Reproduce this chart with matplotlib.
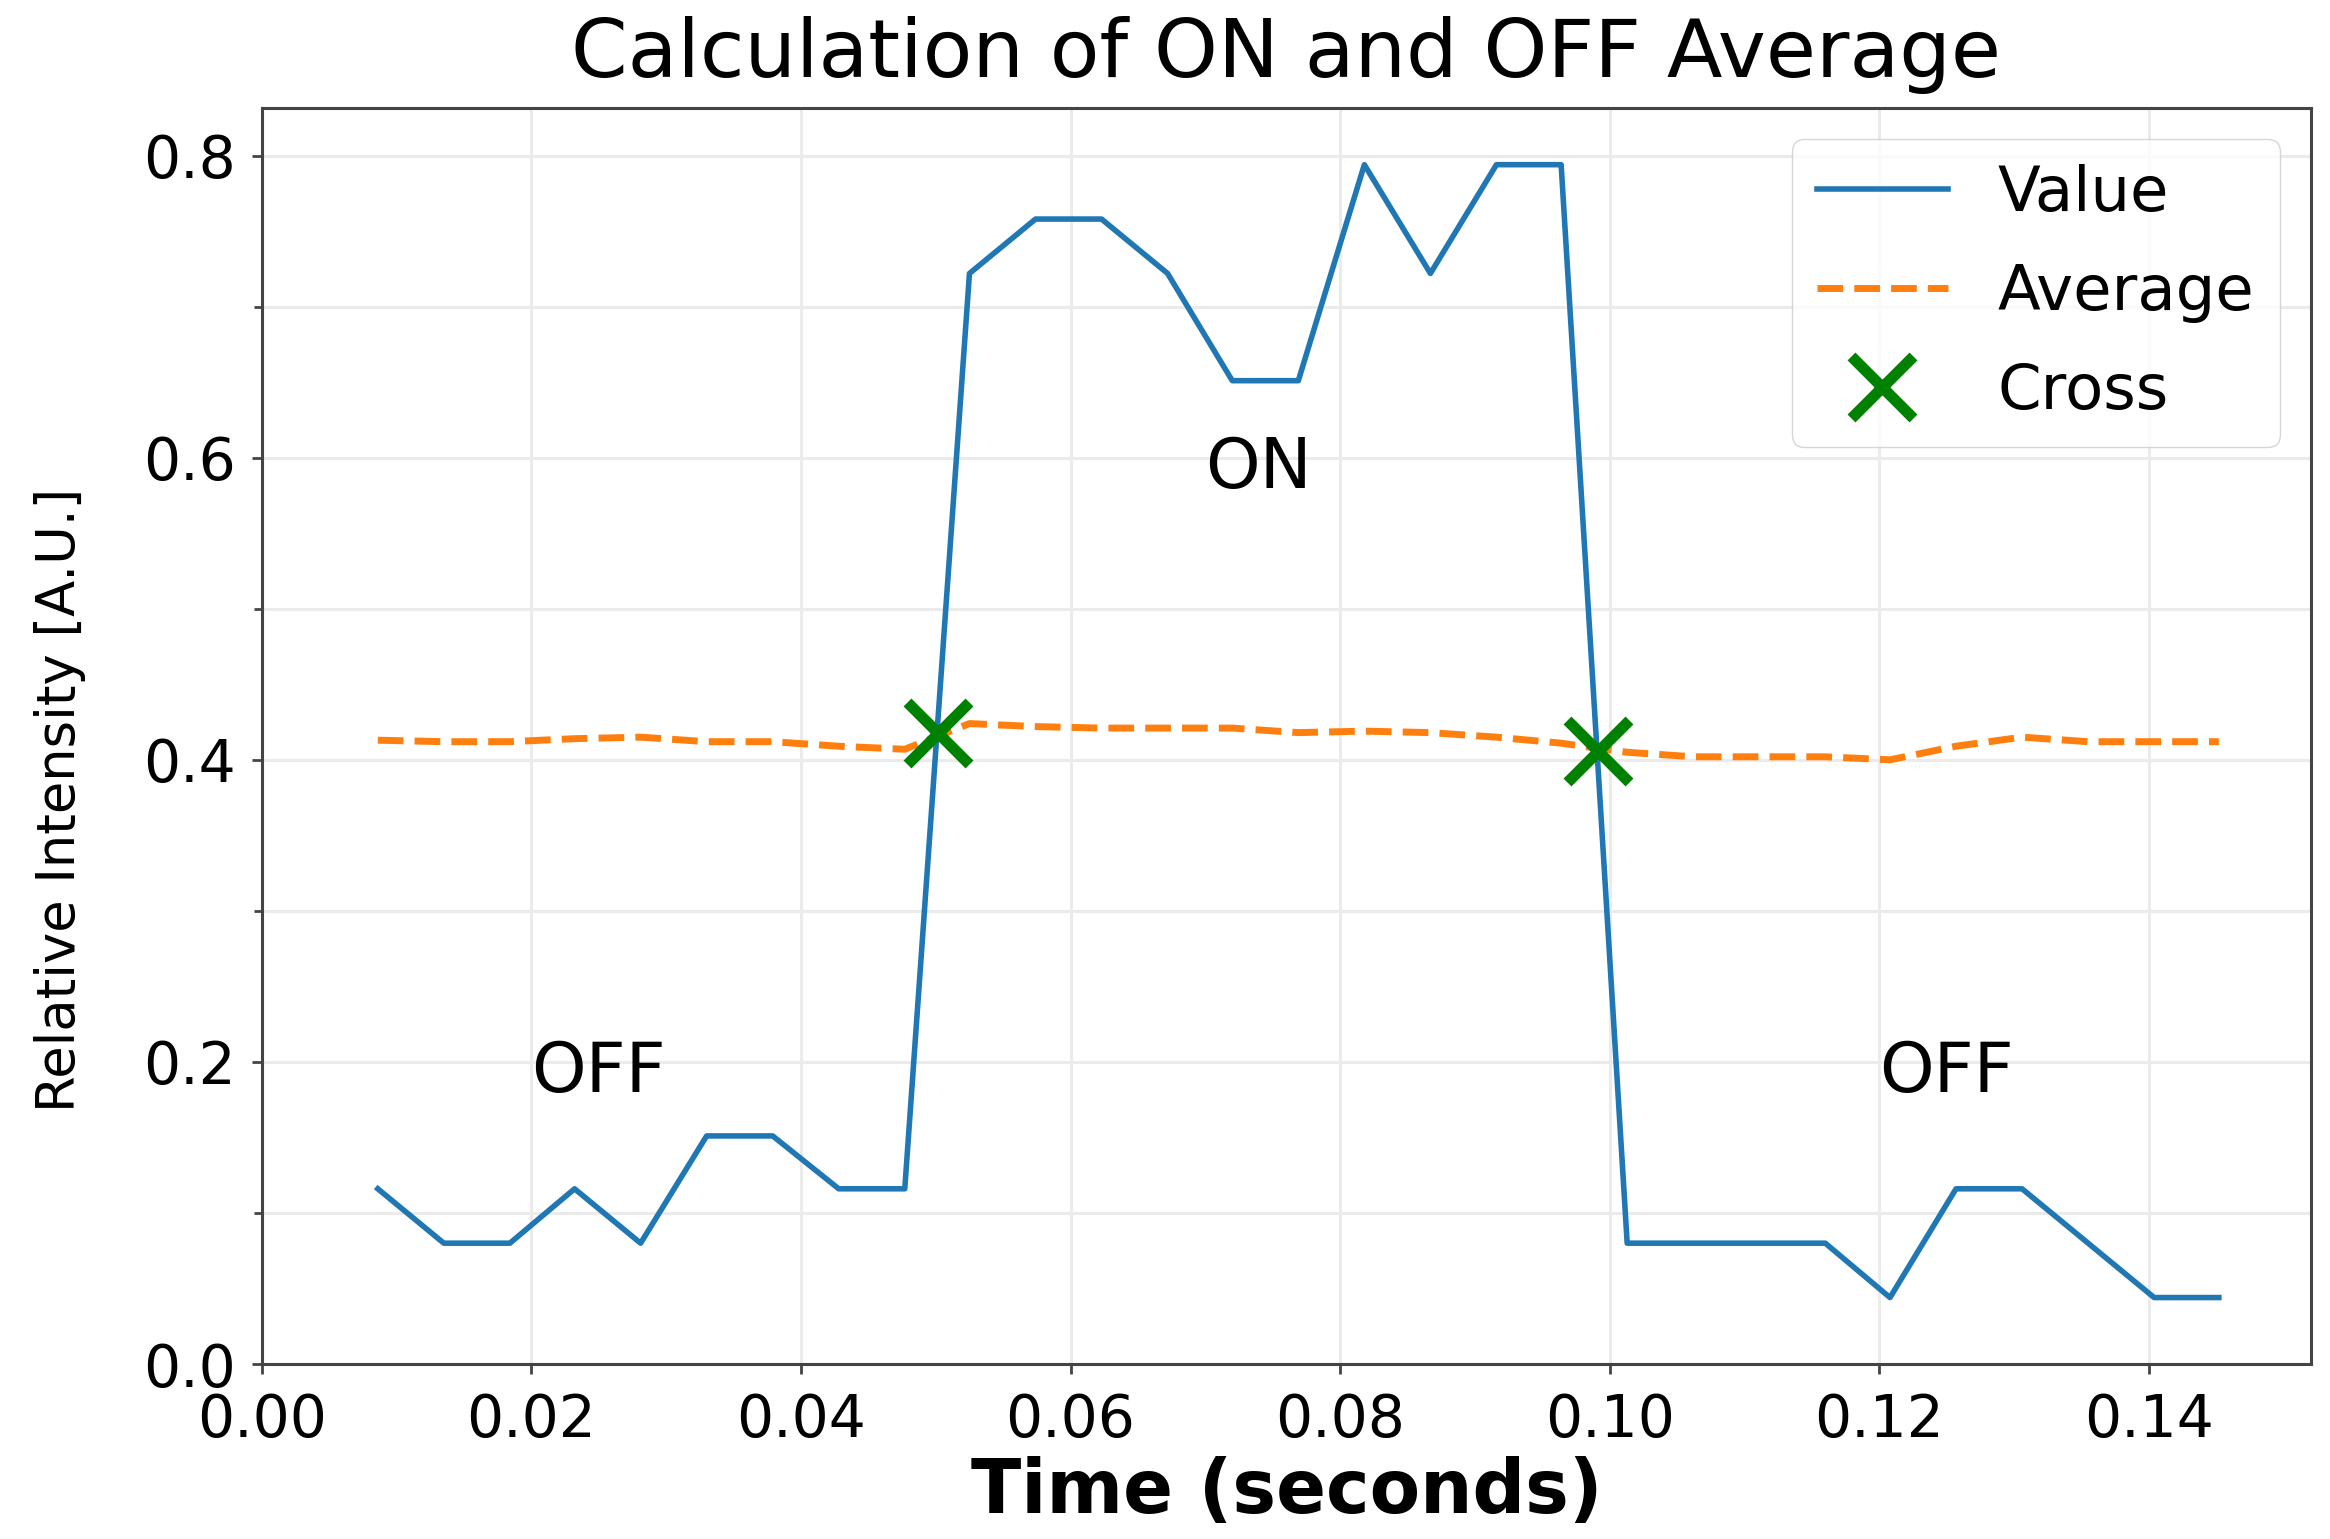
import matplotlib.pyplot as plt
from matplotlib.ticker import MultipleLocator

# sample times (s) and measured relative intensity
time_s = [0.0086, 0.0135, 0.0184, 0.0232, 0.0281, 0.0330, 0.0379, 0.0428,
          0.0477, 0.0525, 0.0574, 0.0623, 0.0672, 0.0720, 0.0769, 0.0818,
          0.0867, 0.0916, 0.0964, 0.1013, 0.1062, 0.1111, 0.1160, 0.1208,
          0.1257, 0.1306, 0.1355, 0.1404, 0.1452]
value = [0.116, 0.080, 0.080, 0.116, 0.080, 0.151, 0.151, 0.116,
         0.116, 0.722, 0.758, 0.758, 0.722, 0.651, 0.651, 0.794,
         0.722, 0.794, 0.794, 0.080, 0.080, 0.080, 0.080, 0.044,
         0.116, 0.116, 0.080, 0.044, 0.044]
average = [0.413, 0.412, 0.412, 0.414, 0.415, 0.412, 0.412, 0.409,
           0.407, 0.424, 0.422, 0.421, 0.421, 0.421, 0.418, 0.419,
           0.418, 0.415, 0.411, 0.405, 0.402, 0.402, 0.402, 0.400,
           0.409, 0.415, 0.412, 0.412, 0.412]

# where value crosses the running average
cross_t = [0.0502, 0.0991]
cross_v = [0.418, 0.406]

region_names = ['OFF', 'ON', 'OFF']
region_t = [0.02, 0.07, 0.12]
region_v = [0.18, 0.58, 0.18]

fig = plt.figure(figsize=(23.3, 15.39), dpi=100)
ax = fig.add_axes([0.1124, 0.1137, 0.8794, 0.8161])

ax.plot(time_s, value, color='#1f77b4', lw=4, label='Value')
ax.plot(time_s, average, '--', color='#ff7f0e', lw=5, label='Average')
ax.plot(cross_t, cross_v, 'x', color='green', ms=44, mew=8, linestyle='none', label='Cross')

for name, t, v in zip(region_names, region_t, region_v):
    ax.text(t, v, name, fontsize=50)

ax.set_xlim(left=0)
ax.set_ylim(bottom=0)
ax.yaxis.set_major_locator(MultipleLocator(0.2))
ax.yaxis.set_minor_locator(MultipleLocator(0.1))

ax.grid(True, which='both', axis='y', color='#ebebeb', lw=2.2)
ax.grid(True, which='major', axis='x', color='#ebebeb', lw=2.2)
ax.set_axisbelow(True)

for sp in ax.spines.values():
    sp.set_linewidth(2.2)
    sp.set_color('#444444')

ax.tick_params(which='major', labelsize=42, length=7, width=2, pad=12, color='#444444')
ax.tick_params(axis='x', which='major', pad=13.5)
ax.tick_params(which='minor', length=6, width=2, color='#444444')

ax.set_title('Calculation of ON and OFF Average', fontsize=58.5, pad=22)
ax.set_xlabel('Time (seconds)', fontsize=53, fontweight='bold', labelpad=5)
ax.set_ylabel('Relative Intensity [A.U.]', fontsize=38)
ax.yaxis.set_label_coords(-0.086, 0.449)

ax.legend(loc='upper right', fontsize=45, handlelength=2.1, labelspacing=0.62)

fig.savefig('out.png', dpi=100)
